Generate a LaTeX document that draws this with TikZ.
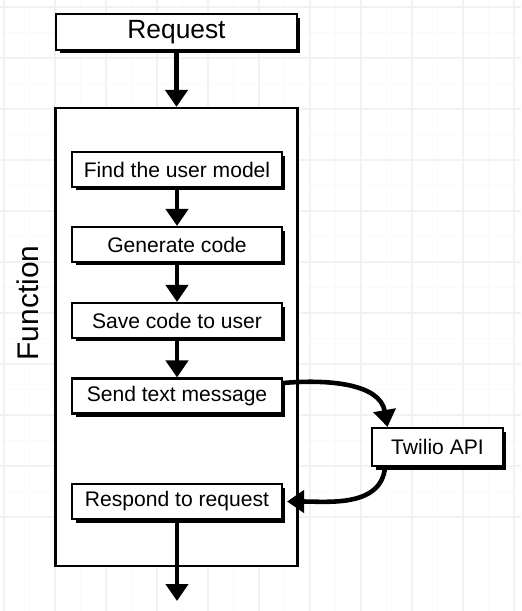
\documentclass[tikz,border=0pt]{standalone}
\usepackage{fontspec}
\setmainfont{Liberation Sans}
\usetikzlibrary{arrows.meta,shadows}

\begin{document}
\begin{tikzpicture}[x=0.02cm,y=-0.02cm,
    stepbox/.style={draw,line width=1.2pt,fill=white,inner sep=0pt,
      minimum width=4.2cm,minimum height=0.7cm,font=\fontsize{12}{14}\selectfont,
      general shadow={fill=black,shadow xshift=0.07cm,shadow yshift=-0.07cm}},
    flow/.style={line width=2.6pt,-{Triangle[width=0.44cm,length=0.34cm]}}]
  \useasboundingbox[fill=white] (0,0) rectangle (521,611);

  % faint grid
  \foreach \k in {0,...,20} {
    \draw[black!2,line width=0.6pt] ({4+25.5*\k},0) -- ({4+25.5*\k},611);
    \draw[black!2,line width=0.6pt] (0,{7+25.5*\k}) -- (521,{7+25.5*\k});
  }
  \foreach \k in {0,...,10} {
    \draw[black!5,line width=1pt] ({4+51*\k},0) -- ({4+51*\k},611);
    \draw[black!5,line width=1pt] (0,{7+51*\k}) -- (521,{7+51*\k});
  }

  \node[draw,line width=1.3pt,fill=white,minimum width=4.84cm,minimum height=9.16cm] (func) at (176.5,337) {};
  \node[rotate=90,font=\fontsize{17}{20}\selectfont] (funclabel) at (28,303) {Function};

  \node[stepbox,minimum width=4.82cm,minimum height=0.72cm,font=\fontsize{15}{18}\selectfont] (request) at (176.5,32) {Request};
  \node[stepbox] (find) at (177,169.5) {Find the user model};
  \node[stepbox] (gen) at (177,244.5) {Generate code};
  \node[stepbox] (save) at (177,320.5) {Save code to user};
  \node[stepbox] (send) at (177,396) {Send text message};
  \node[stepbox] (respond) at (177,501.5) {Respond to request};
  \node[stepbox,minimum width=2.62cm,minimum height=0.76cm] (twilio) at (437.5,447) {Twilio API};
  \coordinate (out) at (177,601);

  \draw[flow] (request.south) -- (func.north);
  \draw[flow] (find.south) -- (gen.north);
  \draw[flow] (gen.south) -- (save.north);
  \draw[flow] (save.south) -- (send.north);
  \draw[flow] ([yshift=0.26cm]send.east) to[out=5,in=100] ([xshift=-1cm]twilio.north);
  \draw[flow] ([xshift=-1.05cm]twilio.south) to[out=-95,in=0] ([xshift=0.08cm]respond.east);
  \draw[flow] (respond.south) -- (out);
\end{tikzpicture}
\end{document}
